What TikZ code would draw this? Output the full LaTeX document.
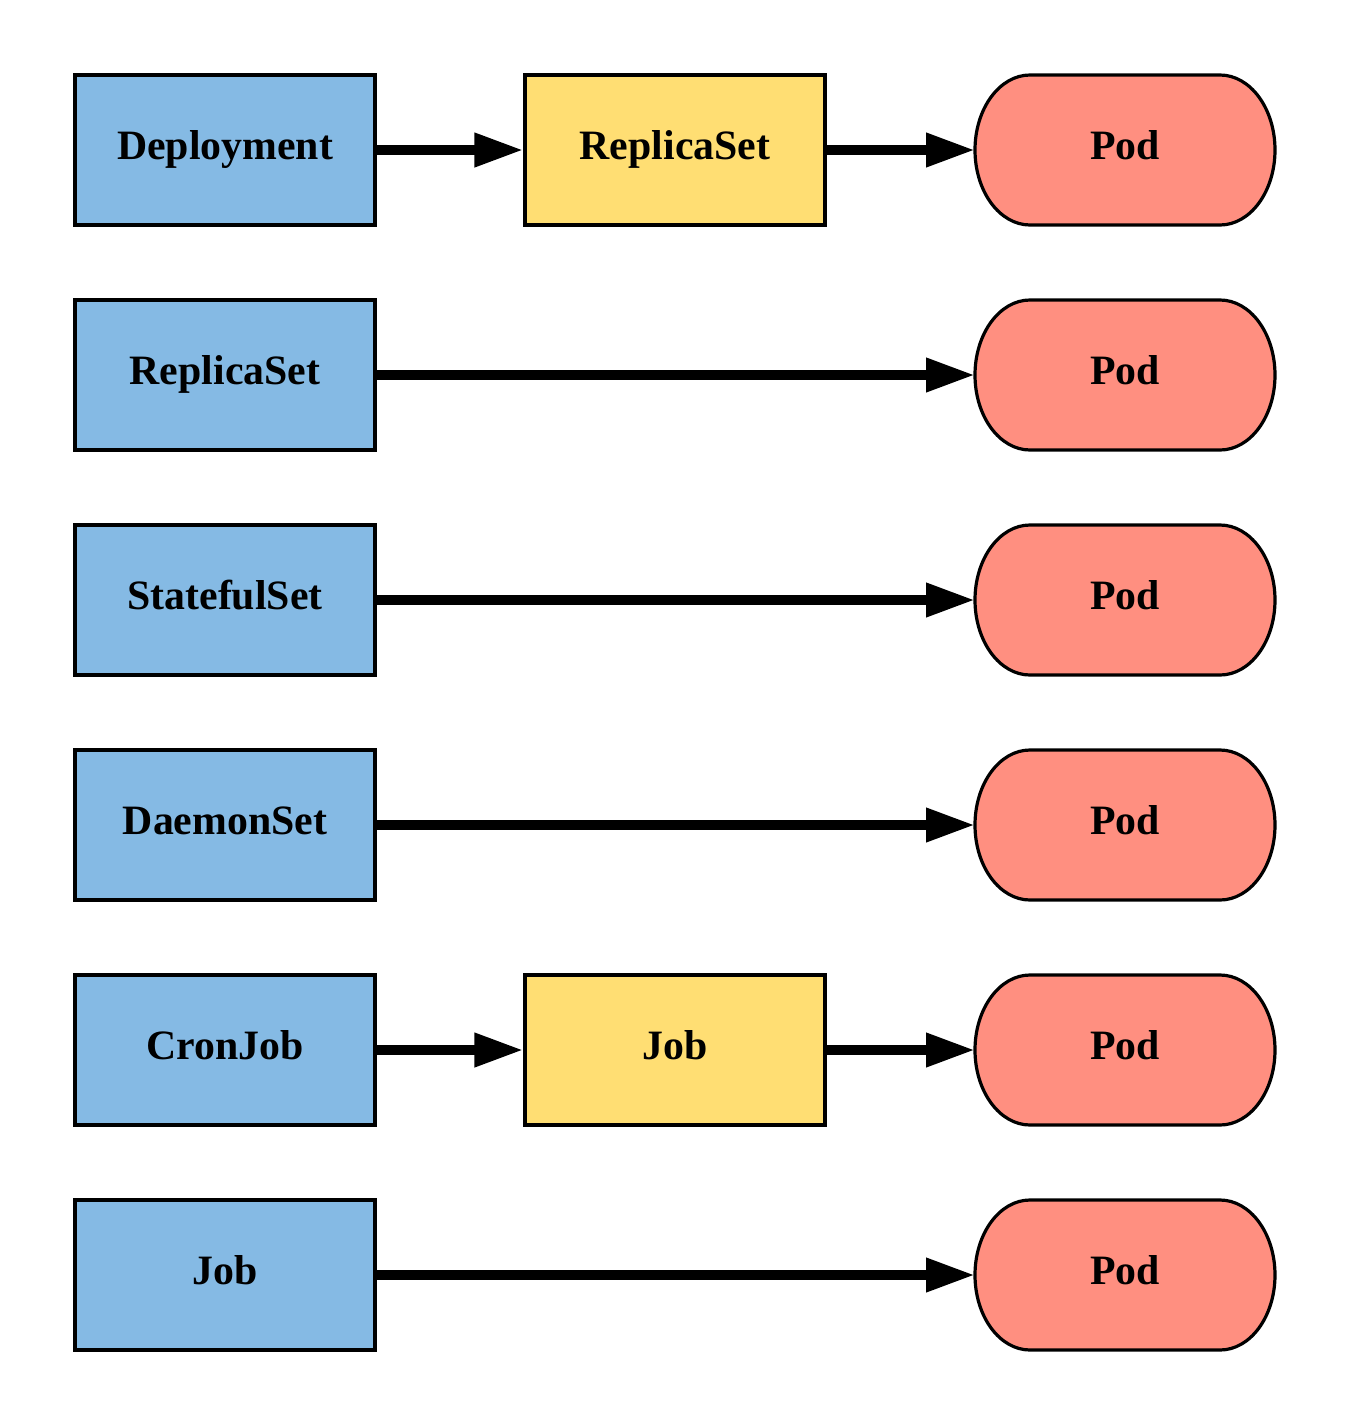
\documentclass[tikz,border=0pt]{standalone}
\usepackage{fontspec}
\setmainfont{Liberation Serif}
\usetikzlibrary{arrows.meta,backgrounds}
\definecolor{kbctrl}{HTML}{85BAE4}
\definecolor{kbmid}{HTML}{FFDE73}
\definecolor{kbpod}{HTML}{FF8F80}

\begin{document}
\begin{tikzpicture}[x=0.5pt, y=-0.5pt,
    every node/.style={font=\fontsize{20.9pt}{24pt}\selectfont\bfseries, text height=13pt, text depth=4pt,
      minimum width=150pt, minimum height=75pt, line width=1.6pt},
    ctrl/.style={rectangle, draw, fill=kbctrl},
    mid/.style={rectangle, draw, fill=kbmid},
    pod/.style={rectangle, outer sep=0pt},
    link/.style={line width=5pt, -{Triangle[length=24.5pt, width=16pt]}}]
    \useasboundingbox (0,0) rectangle (1350,1425);

    \node[ctrl] (deploy) at (225,150) {Deployment};
    \node[mid] (rs1) at (675,150) {ReplicaSet};
    \node[pod] (pod1) at (1125,150) {Pod};

    \node[ctrl] (rs2) at (225,375) {ReplicaSet};
    \node[pod] (pod2) at (1125,375) {Pod};

    \node[ctrl] (sts) at (225,600) {StatefulSet};
    \node[pod] (pod3) at (1125,600) {Pod};

    \node[ctrl] (ds) at (225,825) {DaemonSet};
    \node[pod] (pod4) at (1125,825) {Pod};

    \node[ctrl] (cron) at (225,1050) {CronJob};
    \node[mid] (job1) at (675,1050) {Job};
    \node[pod] (pod5) at (1125,1050) {Pod};

    \node[ctrl] (job2) at (225,1275) {Job};
    \node[pod] (pod6) at (1125,1275) {Pod};

    % pod outlines with oval ends
    \begin{scope}[on background layer]
        \foreach \p in {pod1,pod2,pod3,pod4,pod5,pod6} {
            \draw[line width=1.6pt, fill=kbpod] ([xshift=27.5pt]\p.north west) -- ([xshift=-27.5pt]\p.north east)
                arc[start angle=90, end angle=-90, x radius=27.5pt, y radius=37.5pt]
                -- ([xshift=27.5pt]\p.south west)
                arc[start angle=270, end angle=90, x radius=27.5pt, y radius=37.5pt] -- cycle;
        }
    \end{scope}

    \draw[link] (deploy) -- (rs1);
    \draw[link] (rs1) -- (pod1);
    \draw[link] (rs2) -- (pod2);
    \draw[link] (sts) -- (pod3);
    \draw[link] (ds) -- (pod4);
    \draw[link] (cron) -- (job1);
    \draw[link] (job1) -- (pod5);
    \draw[link] (job2) -- (pod6);
\end{tikzpicture}
\end{document}
